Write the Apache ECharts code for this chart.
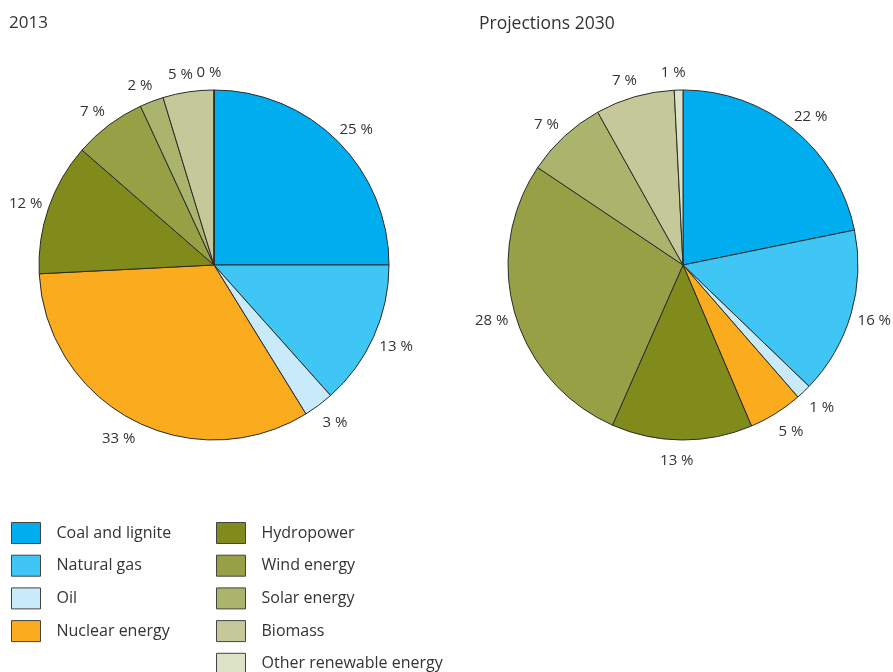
<!DOCTYPE html>
<html>
<head>
<meta charset="utf-8">
<script src="https://cdn.jsdelivr.net/npm/echarts@6/dist/echarts.min.js"></script>
<style>html,body{margin:0;padding:0;background:#fff}#c{width:893px;height:672px}</style>
</head>
<body>
<div id="c"></div>
<script>
const categories = ['Coal and lignite','Natural gas','Oil','Nuclear energy','Hydropower','Wind energy','Solar energy','Biomass','Other renewable energy'];
const colors = ['#00aeef','#3fc6f4','#c8eaf9','#fbac1e','#808b1c','#97a045','#abb46c','#c5c999','#dde3c7'];
// slice shares
const values2013 = [25,13.4,2.8,33.0,12.2,6.7,2.2,4.7,0];
const values2030 = [21.8,15.4,1.4,5.0,13.0,27.8,7.5,7.3,0.8];
// percentages as printed next to the slices
const labels2013 = ['25 %','13 %','3 %','33 %','12 %','7 %','2 %','5 %','0 %'];
const labels2030 = ['22 %','16 %','1 %','5 %','13 %','28 %','7 %','7 %','1 %'];
const titles = ['2013','Projections 2030'];
const legendCol1 = categories.slice(0,4);
const legendCol2 = categories.slice(4);

const FONT = '"Open Sans", "Noto Sans", sans-serif';
function makeData(vals){
  return categories.map((n,i)=>({name:n, value:vals[i], itemStyle:{color:colors[i]}}));
}
function pie(vals, labels, cx){
  return {
    type:'pie', center:[cx,265], radius:175, startAngle:90, clockwise:true,
    avoidLabelOverlap:false, silent:true, animation:false,
    itemStyle:{borderColor:'#2a2a2a', borderWidth:1},
    label:{show:true, position:'outside', formatter:p=>labels[p.dataIndex], color:'#333', fontFamily:FONT, fontSize:15},
    labelLine:{show:false, length:19, length2:0},
    labelLayout:function(p){
      const r = p.labelRect;
      const ax = p.align === 'right' ? r.x + r.width : (p.align === 'center' ? r.x + r.width/2 : r.x);
      return {x: ax, y: r.y + r.height/2 + 2, align:'center', verticalAlign:'middle'};
    },
    data:makeData(vals)
  };
}
const chart = echarts.init(document.getElementById('c'));
const legendBase = {orient:'vertical', icon:'rect', itemWidth:29, itemHeight:21, itemGap:10.7,
  padding:0, height:220, selectedMode:false, itemStyle:{borderColor:'#444', borderWidth:1},
  textStyle:{fontFamily:FONT, fontSize:16, lineHeight:21, color:'#333', padding:[0,0,0,11]}};
chart.setOption({
  animation:false,
  title:[
    {text:titles[0], left:4, top:10, textStyle:{fontFamily:FONT, fontSize:17, fontWeight:'normal', color:'#333'}},
    {text:titles[1], left:474, top:10, textStyle:{fontFamily:FONT, fontSize:17.5, fontWeight:'normal', color:'#333'}}
  ],
  legend:[
    Object.assign({left:11, top:522, data:legendCol1}, legendBase),
    Object.assign({left:216, top:522, data:legendCol2}, legendBase)
  ],
  series:[pie(values2013,labels2013,214), pie(values2030,labels2030,683)],
  graphic:[
    {type:'text', x:318, y:350, rotation:Math.PI*52/180, style:{text:'pbl.nl', fill:'#fff', font:'14px '+FONT, textAlign:'center', textVerticalAlign:'middle'}},
    {type:'text', x:818, y:345, rotation:Math.PI*52/180, style:{text:'pbl.nl', fill:'#fff', font:'14px '+FONT, textAlign:'center', textVerticalAlign:'middle'}}
  ]
});
</script>
</body>
</html>
